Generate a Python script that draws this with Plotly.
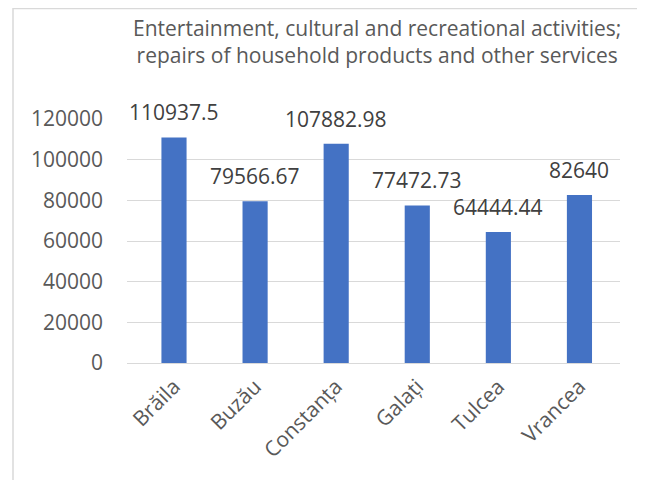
import plotly.graph_objects as go

categories = ["Brăila", "Buzău", "Constanța", "Galați", "Tulcea", "Vrancea"]
values = [110937.5, 79566.67, 107882.98, 77472.73, 64444.44, 82640]
value_labels = ["110937.5", "79566.67", "107882.98", "77472.73", "64444.44", "82640"]
title_lines = ["Entertainment, cultural and recreational activities;",
               "repairs of household products and other services"]
y_ticks = [0, 20000, 40000, 60000, 80000, 100000, 120000]

FONT = "Open Sans"
OFF = 8  # page body margin
W, H = 645 - OFF, 480 - OFF
# plot area in page coordinates: x 127..620, y 119..363
PX0, PX1, PY0, PY1 = 127, 620, 119, 363
L, R, T, B = PX0 - OFF, 645 - PX1, PY0 - OFF, 480 - PY1
pw, ph = W - L - R, H - T - B


def px_x(x):  # page x -> paper
    return (x - PX0) / pw


def px_y(y):  # page y -> paper
    return (PY1 - y) / ph


fig = go.Figure()
fig.add_trace(go.Bar(x=categories, y=values, marker=dict(color="#4472C4", line=dict(width=0)),
                     width=0.31, hoverinfo="x+y"))

for c, v, t in zip(categories, values, value_labels):
    fig.add_annotation(x=c, y=v, text=t, showarrow=False, yshift=25, yanchor="middle",
                       font=dict(family=FONT, size=21, color="#404040"))

fig.add_annotation(xref="paper", yref="paper", x=px_x(377), y=px_y(41),
                   text="<br>".join(title_lines), showarrow=False, xanchor="center", yanchor="middle",
                   font=dict(family=FONT, size=21, color="#595959"))

# outer chart border (right and bottom edges fall outside the picture)
fig.add_shape(type="rect", xref="paper", yref="paper",
              x0=px_x(13), x1=px_x(700), y0=px_y(540), y1=px_y(8.5),
              line=dict(color="#d9d9d9", width=1.5), fillcolor="rgba(0,0,0,0)", layer="below")

fig.update_layout(
    width=W, height=H, margin=dict(l=L, r=R, t=T, b=B, pad=0),
    paper_bgcolor="white", plot_bgcolor="white", showlegend=False,
    font=dict(family=FONT, color="#595959"),
    xaxis=dict(tickangle=-45, tickfont=dict(size=21, color="#595959"), showline=True,
               linecolor="#d9d9d9", linewidth=1, ticks="", ticklabelstandoff=2, fixedrange=True),
    yaxis=dict(range=[0, 120000], tickvals=y_ticks, ticktext=[str(v) for v in y_ticks],
               tickfont=dict(size=21, color="#595959"), gridcolor="#d9d9d9", gridwidth=1,
               zeroline=False, showline=False, ticks="", ticklabelstandoff=23, fixedrange=True),
)

fig.write_html("out.html")
